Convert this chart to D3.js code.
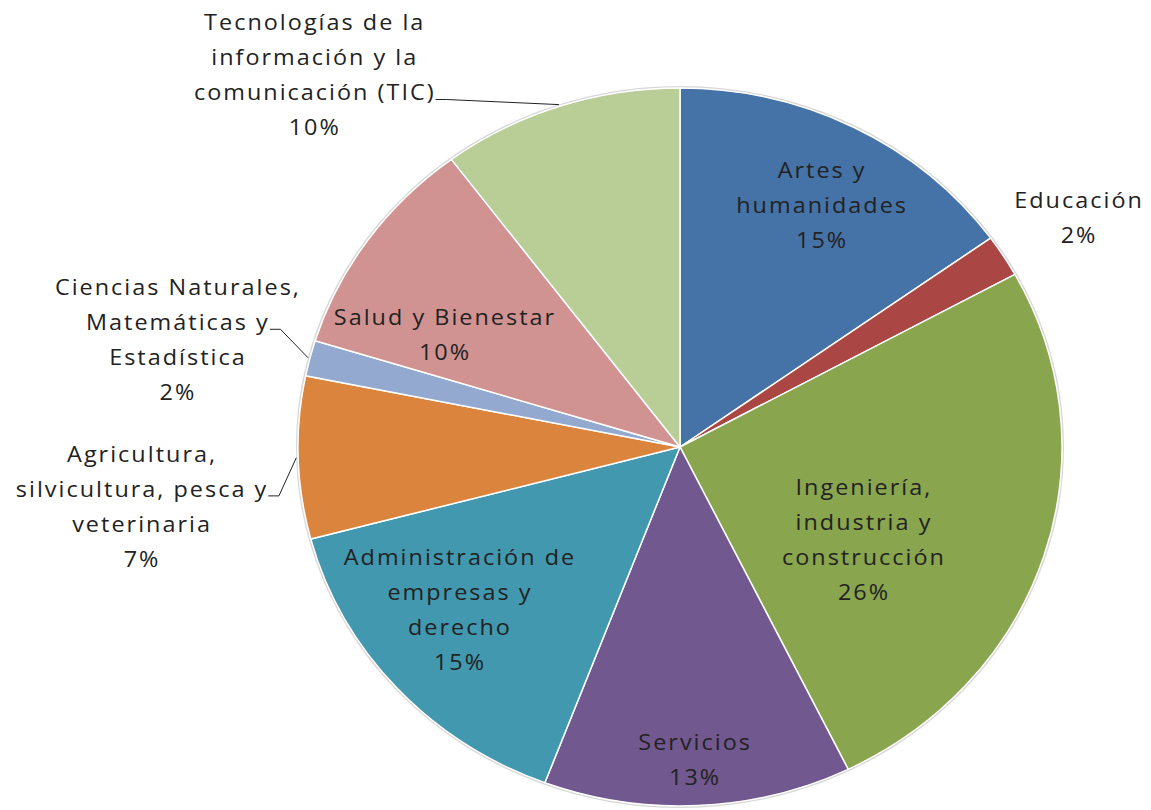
<!DOCTYPE html>
<html>
<head>
<meta charset="utf-8">
<script src="https://cdn.jsdelivr.net/npm/d3@7"></script>
<style>
  body { margin: 0; background: #fff; }
  text { font-family: "Open Sans", "Noto Sans", sans-serif; font-size: 22px; letter-spacing: 1.9px; fill: #222; }
</style>
</head>
<body>
<script>
// slices, clockwise from 12 o'clock
const categories = [
  "Artes y|humanidades",
  "Educación",
  "Ingeniería,|industria y|construcción",
  "Servicios",
  "Administración de|empresas y|derecho",
  "Agricultura,|silvicultura, pesca y|veterinaria",
  "Ciencias Naturales,|Matemáticas y|Estadística",
  "Salud y Bienestar",
  "Tecnologías de  la|información y la|comunicación (TIC)"
];
const shares = [15.1, 1.9, 25.7, 13.0, 15.1, 7.3, 1.6, 10.0, 10.2];
const colors = ["#4572a7", "#aa4643", "#89a54e", "#71588f", "#4198af",
                "#db843d", "#93a9cf", "#d19392", "#b9cd96"];

// label placement: polar position relative to pie (deg, fraction of radius)
const labelAngle  = [28.9, 58.6, 118.3, 177.4, 231.8, 263.3, 282.8, 296.9, 317.3];
const labelRadius = [0.77, 1.224, 0.547, 0.873, 0.733, 1.418, 1.348, 0.69, 1.41];
// which text line gets a leader line (-1 = none)
const leaderLine  = [-1, -1, -1, -1, -1, 1, 1, -1, 2];

const width = 1151, height = 810;
const cx = 680, cy = 447, r = 359, stretch = 1.064;
const lineH = 35;

const svg = d3.select("body").append("svg")
  .attr("width", width)
  .attr("height", height);

const g = svg.append("g")
  .attr("transform", `translate(${cx},${cy}) scale(${stretch},1)`);

const pie = d3.pie().sort(null).value(d => d);
const arcs = pie(shares);
const arc = d3.arc().innerRadius(0).outerRadius(r);

// faint outer rim
g.append("circle")
  .attr("r", r + 1)
  .attr("fill", "none")
  .attr("stroke", "#d8d8d8")
  .attr("stroke-width", 2)
  .attr("vector-effect", "non-scaling-stroke");

g.selectAll("path.slice")
  .data(arcs)
  .join("path")
  .attr("class", "slice")
  .attr("d", arc)
  .attr("fill", (d, i) => colors[i])
  .attr("stroke", "#fff")
  .attr("stroke-width", 1.5)
  .attr("vector-effect", "non-scaling-stroke");

const polar = (deg, rad) => {
  const a = deg * Math.PI / 180;
  return [Math.sin(a) * rad, -Math.cos(a) * rad];
};

arcs.forEach((d, i) => {
  const lines = categories[i].split("|").concat([Math.round(d.data) + "%"]);
  const [lx, ly] = polar(labelAngle[i], labelRadius[i] * r);
  const y0 = ly - (lines.length - 1) / 2 * lineH;

  const t = g.append("text")
    .attr("text-anchor", "middle");
  lines.forEach((s, k) => {
    t.append("tspan")
      .attr("x", lx)
      .attr("y", y0 + k * lineH)
      .attr("dy", "0.35em")
      .text(s);
  });

  const k = leaderLine[i];
  if (k >= 0) {
    const w = t.selectAll("tspan").nodes()[k].getComputedTextLength();
    const x1 = lx + w / 2;
    const y1 = y0 + k * lineH + 7;
    const mid = (d.startAngle + d.endAngle) / 2 * 180 / Math.PI;
    const [ex, ey] = polar(mid, r * 1.005);
    g.append("polyline")
      .attr("points", [[x1, y1], [x1 + 10, y1], [ex, ey]].map(p => p.join(",")).join(" "))
      .attr("fill", "none")
      .attr("stroke", "#222")
      .attr("stroke-width", 1)
      .attr("vector-effect", "non-scaling-stroke");
  }
});
</script>
</body>
</html>
